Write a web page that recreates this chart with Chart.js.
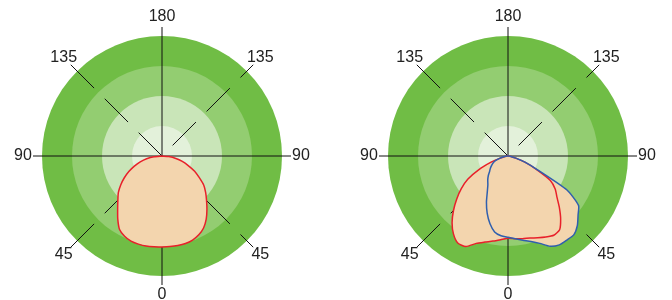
<!DOCTYPE html>
<html>
<head>
<meta charset="utf-8">
<title>Polar light distribution</title>
<script src="https://cdn.jsdelivr.net/npm/chart.js"></script>
<style>
  body { margin: 0; background: #fff; }
  #wrap { position: relative; width: 672px; height: 300px; }
  canvas { position: absolute; top: 0; }
</style>
</head>
<body>
<div id="wrap">
  <canvas id="left" width="336" height="300" style="left:0"></canvas>
  <canvas id="right" width="336" height="300" style="left:336px"></canvas>
</div>
<script>
// sample angles, 5 degree steps: 0 at the bottom, round through the left (90) to the top (180) and back down the right
const angles = [
  0, 5, 10, 15, 20, 25, 30, 35, 40, 45, 50, 55, 60, 65, 70, 75, 80, 85,
  90, 95, 100, 105, 110, 115, 120, 125, 130, 135, 140, 145, 150, 155, 160, 165, 170, 175,
  180, 185, 190, 195, 200, 205, 210, 215, 220, 225, 230, 235, 240, 245, 250, 255, 260, 265,
  270, 275, 280, 285, 290, 295, 300, 305, 310, 315, 320, 325, 330, 335, 340, 345, 350, 355
];

// angle lines that carry a label, and the text shown for them
const tickAngles = [0, 45, 90, 135, 180, 225, 270, 315];
const tickLabels = ['0', '45', '90', '135', '180', '135', '90', '45'];

// background rings (outer first)
const ringValues = [400, 300, 200, 100];
const ringColors = ['#70bd45', '#93cd71', '#c9e5b8', '#e3f1da'];
const scaleMax = 430;

// left diagram
const leftRed = [
  303, 304, 305, 304, 302, 295, 283, 257, 230, 208, 190, 168, 145, 122, 98, 75, 52, 27,
  0, 0, 0, 0, 0, 0, 0, 0, 0, 0, 0, 0, 0, 0, 0, 0, 0, 0,
  0, 0, 0, 0, 0, 0, 0, 0, 0, 0, 0, 0, 0, 0, 0, 0, 0, 0,
  0, 23, 47, 70, 93, 120, 143, 170, 190, 210, 233, 257, 277, 290, 298, 302, 303, 303
];

// right diagram
const rightRed = [
  274, 280, 288, 297, 310, 333, 335, 317, 290, 257, 223, 190, 155, 107, 60, 27, 10, 3,
  0, 0, 0, 0, 0, 0, 0, 0, 0, 0, 0, 0, 0, 0, 0, 0, 0, 0,
  0, 0, 0, 0, 0, 0, 0, 0, 0, 0, 0, 0, 0, 0, 0, 0, 0, 0,
  0, 3, 10, 27, 60, 103, 163, 192, 213, 242, 273, 300, 305, 298, 290, 283, 280, 277
];
const rightBlue = [
  271, 267, 257, 233, 203, 170, 138, 117, 105, 93, 80, 72, 63, 55, 43, 27, 15, 7,
  0, 0, 0, 0, 0, 0, 0, 0, 0, 0, 0, 0, 0, 0, 0, 0, 0, 0,
  0, 0, 0, 0, 0, 0, 0, 0, 0, 0, 0, 0, 0, 0, 0, 0, 0, 0,
  0, 3, 10, 27, 60, 107, 227, 287, 305, 327, 342, 342, 342, 332, 310, 295, 285, 277
];

const fillColor = '#f3d5ae';

const ringsPlugin = {
  id: 'rings',
  beforeDraw(chart) {
    const r = chart.scales.r;
    const ctx = chart.ctx;
    ctx.save();
    ringValues.forEach((v, k) => {
      ctx.beginPath();
      ctx.arc(r.xCenter, r.yCenter, r.getDistanceFromCenterForValue(v), 0, Math.PI * 2);
      ctx.fillStyle = ringColors[k];
      ctx.fill();
    });
    ctx.restore();
  }
};

const labelsPlugin = {
  id: 'angleText',
  afterDraw(chart) {
    const r = chart.scales.r;
    const ctx = chart.ctx;
    ctx.save();
    ctx.font = '16px "Liberation Sans", Arial, sans-serif';
    ctx.fillStyle = '#222';
    ctx.textAlign = 'center';
    ctx.textBaseline = 'middle';
    tickAngles.forEach((a, k) => {
      const p = r.getPointPosition(angles.indexOf(a), 139);
      ctx.fillText(tickLabels[k], p.x, p.y);
    });
    ctx.restore();
  }
};

function isMajor(i) { return angles[i] % 90 === 0; }
function isDiag(i) { return angles[i] % 90 === 45; }

function makeChart(id, curves, pad) {
  return new Chart(document.getElementById(id), {
    type: 'radar',
    data: {
      labels: angles,
      datasets: curves.map(c => ({
        data: c.data,
        borderColor: c.color,
        backgroundColor: fillColor,
        fill: 'origin',
        borderWidth: 1.5,
        pointRadius: 0,
        tension: 0.2
      }))
    },
    options: {
      responsive: false,
      animation: false,
      devicePixelRatio: 1,
      layout: { padding: pad },
      plugins: {
        legend: { display: false },
        tooltip: { enabled: false },
        filler: { drawTime: 'beforeDatasetsDraw' }
      },
      scales: {
        r: {
          min: 0,
          max: scaleMax,
          startAngle: 180,
          ticks: { display: false },
          grid: { display: false },
          pointLabels: { display: false },
          angleLines: {
            color: '#111',
            lineWidth: ctx => (isMajor(ctx.index) || isDiag(ctx.index)) ? 1 : 0,
            borderDash: ctx => isDiag(ctx.index) ? [33, 15] : [],
            // the diagonals on the right run on from the left ones, so their dashes start mid-pattern
            borderDashOffset: ctx => (isDiag(ctx.index) && angles[ctx.index] > 180) ? 33 : 0
          }
        }
      }
    },
    plugins: [ringsPlugin, labelsPlugin]
  });
}

makeChart('left', [{ data: leftRed, color: '#e8202a' }], { left: 33, top: 27, right: 45, bottom: 15 });
makeChart('right', [
  { data: rightBlue, color: '#2f5fae' },
  { data: rightRed, color: '#e8202a' }
], { left: 43, top: 27, right: 35, bottom: 15 });
</script>
</body>
</html>
